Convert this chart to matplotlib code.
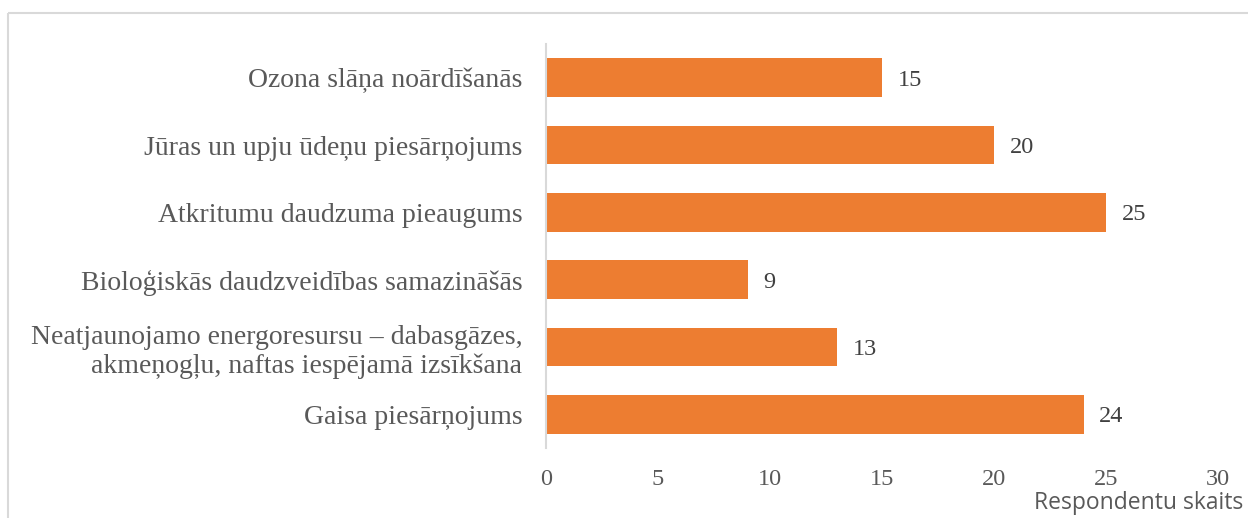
import matplotlib.pyplot as plt
from matplotlib.patches import Rectangle

# categories from bottom to top (barh draws first item at the bottom)
categories = [
    'Gaisa piesārņojums',
    'Neatjaunojamo energoresursu – dabasgāzes,\nakmeņogļu, naftas iespējamā izsīkšana',
    'Bioloģiskās daudzveidības samazināšās',
    'Atkritumu daudzuma pieaugums',
    'Jūras un upju ūdeņu piesārņojums',
    'Ozona slāņa noārdīšanās',
]
values = [24, 13, 9, 25, 20, 15]
x_ticks = [0, 5, 10, 15, 20, 25, 30]

text_col = '#595959'
bar_col = '#ED7D31'
serif = ['Liberation Serif', 'DejaVu Serif']

fig = plt.figure(figsize=(12.48, 5.18), dpi=100)
ax = fig.add_axes([546 / 1248, 1 - 448 / 518, (1218 - 546) / 1248, (448 - 44) / 518])

# chart border (light grey frame, cut off at right/bottom)
fig.patches.append(Rectangle((8 / 1248, 1 - 13 / 518), 1.0, -1.0, transform=fig.transFigure,
                             fill=False, edgecolor='#D9D9D9', linewidth=1.5))

y = range(len(categories))
bars = ax.barh(y, values, height=0.57, color=bar_col)

for yi, v in zip(y, values):
    ax.text(v + 0.7, yi, str(v), va='center_baseline', ha='left', fontsize=17.5,
            color='#404040', family=serif)

ax.set_xlim(0, 30)
ax.set_ylim(-0.5, len(categories) - 0.5)
ax.set_xticks(x_ticks)
ax.set_xticklabels([str(t) for t in x_ticks], family=serif, fontsize=17.5, color=text_col)
ax.set_yticks(list(y))
ax.set_yticklabels(categories, family=serif, fontsize=20, color=text_col,
                   linespacing=1.2)
ax.tick_params(axis='both', length=0)
ax.tick_params(axis='y', pad=17)
ax.tick_params(axis='x', pad=15)

for s in ['top', 'right', 'bottom']:
    ax.spines[s].set_visible(False)
ax.spines['left'].set_color('#D9D9D9')
ax.spines['left'].set_linewidth(1.5)

fig.text(1243 / 1248, 1 - 503 / 518, 'Respondentu skaits', ha='right', va='center',
         fontsize=16.5, color=text_col, family=['Open Sans', 'DejaVu Sans'])

fig.savefig('out.png', dpi=100)
